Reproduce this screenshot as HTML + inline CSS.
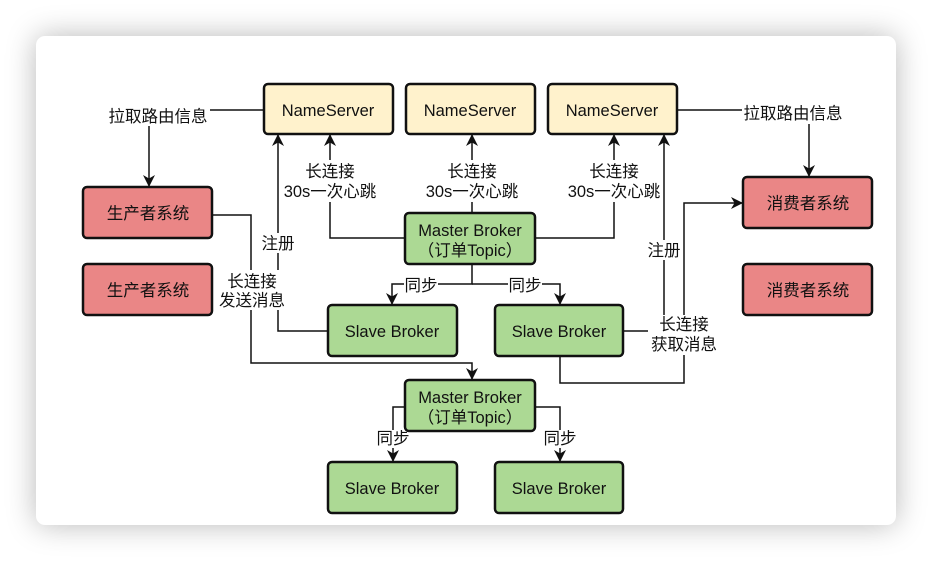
<!DOCTYPE html>
<html><head><meta charset="utf-8"><style>
html,body{margin:0;padding:0;background:#fff;}
.wrap{position:relative;width:932px;height:562px;overflow:hidden;background:#fff;}
.card{position:absolute;left:36px;top:36px;width:860px;height:489px;border-radius:9px;background:#fff;box-shadow:0 0 30px rgba(0,0,0,0.28);}
svg{position:absolute;left:0;top:0;}
text{font-family:"Liberation Sans","Noto Sans CJK SC",sans-serif;font-size:16.5px;fill:#111;text-anchor:middle;}
.l{fill:none;stroke:#111;stroke-width:1.5;}
.b{stroke:#111;stroke-width:2.5;}
.y{fill:#fff2cc}.g{fill:#acd994}.r{fill:#ea8686}
.bg{fill:#fff;}
</style></head><body><div class="wrap"><div class="card"></div>
<svg width="932" height="562" viewBox="0 0 932 562">
<defs><marker id="a" markerWidth="12" markerHeight="12" refX="11" refY="6" orient="auto" markerUnits="userSpaceOnUse"><path d="M0,0 L12,6 L0,12 L3.5,6 Z" fill="#111"/></marker></defs>
<path class="l" d="M264,110 H149 V186" marker-end="url(#a)"/>
<path class="l" d="M677,110 H809 V176" marker-end="url(#a)"/>
<path class="l" d="M405,238 H330 V135" marker-end="url(#a)"/>
<path class="l" d="M472,213 V135" marker-end="url(#a)"/>
<path class="l" d="M535,238 H614 V135" marker-end="url(#a)"/>
<path class="l" d="M328,331 H278 V135" marker-end="url(#a)"/>
<path class="l" d="M623,331 H664 V135" marker-end="url(#a)"/>
<path class="l" d="M212,215 H251 V363 H472 V379" marker-end="url(#a)"/>
<path class="l" d="M472,264 V284 H392 V304" marker-end="url(#a)"/>
<path class="l" d="M472,284 H560 V304" marker-end="url(#a)"/>
<path class="l" d="M560,356 V383 H684 V203 H742" marker-end="url(#a)"/>
<path class="l" d="M405,407 H393 V461" marker-end="url(#a)"/>
<path class="l" d="M535,407 H560 V461" marker-end="url(#a)"/>
<rect class="bg" x="106" y="104" width="104" height="22"/>
<rect class="bg" x="742" y="102" width="104" height="22"/>
<rect class="bg" x="283" y="160" width="96" height="42"/>
<rect class="bg" x="425" y="160" width="96" height="42"/>
<rect class="bg" x="567" y="160" width="96" height="42"/>
<rect class="bg" x="262" y="233" width="32" height="20"/>
<rect class="bg" x="648" y="240" width="32" height="20"/>
<rect class="bg" x="218" y="270" width="68" height="40"/>
<rect class="bg" x="648" y="315" width="72" height="40"/>
<rect class="bg" x="404" y="276" width="34" height="18"/>
<rect class="bg" x="508" y="276" width="34" height="18"/>
<rect class="bg" x="376" y="430" width="34" height="18"/>
<rect class="bg" x="543" y="430" width="34" height="18"/>
<text x="158" y="122">拉取路由信息</text>
<text x="793" y="119">拉取路由信息</text>
<text x="330" y="177">长连接</text><text x="330" y="197">30s一次心跳</text>
<text x="472" y="177">长连接</text><text x="472" y="197">30s一次心跳</text>
<text x="614" y="177">长连接</text><text x="614" y="197">30s一次心跳</text>
<text x="278" y="249">注册</text>
<text x="664" y="256">注册</text>
<text x="252" y="287">长连接</text><text x="252" y="306">发送消息</text>
<text x="684" y="330">长连接</text><text x="684" y="350">获取消息</text>
<text x="421" y="291">同步</text>
<text x="525" y="291">同步</text>
<text x="393" y="444">同步</text>
<text x="560" y="444">同步</text>
<rect class="b y" x="264" y="84" width="129" height="50" rx="4"/><text x="328" y="116">NameServer</text>
<rect class="b y" x="406" y="84" width="129" height="50" rx="4"/><text x="470" y="116">NameServer</text>
<rect class="b y" x="548" y="84" width="129" height="50" rx="4"/><text x="612" y="116">NameServer</text>
<rect class="b g" x="405" y="213" width="130" height="51" rx="4"/><text x="470" y="236">Master Broker</text><text x="470" y="256">（订单Topic）</text>
<rect class="b g" x="328" y="305" width="129" height="51" rx="4"/><text x="392" y="337">Slave Broker</text>
<rect class="b g" x="495" y="305" width="128" height="51" rx="4"/><text x="559" y="337">Slave Broker</text>
<rect class="b g" x="405" y="380" width="130" height="51" rx="4"/><text x="470" y="403">Master Broker</text><text x="470" y="423">（订单Topic）</text>
<rect class="b g" x="328" y="462" width="129" height="51" rx="4"/><text x="392" y="494">Slave Broker</text>
<rect class="b g" x="495" y="462" width="128" height="51" rx="4"/><text x="559" y="494">Slave Broker</text>
<rect class="b r" x="83" y="187" width="129" height="51" rx="4"/><text x="148" y="219">生产者系统</text>
<rect class="b r" x="83" y="264" width="129" height="51" rx="4"/><text x="148" y="296">生产者系统</text>
<rect class="b r" x="743" y="177" width="129" height="51" rx="4"/><text x="808" y="209">消费者系统</text>
<rect class="b r" x="743" y="264" width="129" height="51" rx="4"/><text x="808" y="296">消费者系统</text>
</svg></div></body></html>
